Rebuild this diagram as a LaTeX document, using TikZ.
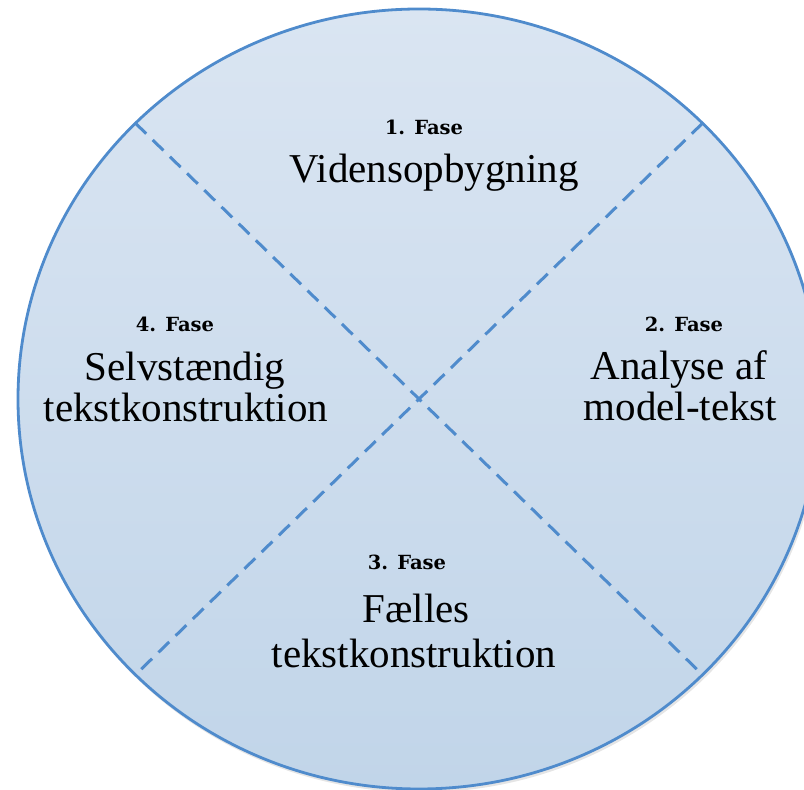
\documentclass[tikz,border=0pt]{standalone}
\usepackage{fontspec}
\usetikzlibrary{calc}
\setmainfont{Liberation Serif}
\newfontfamily\labfont{DejaVu Serif}
\definecolor{ringblue}{HTML}{4F8BCC}
\definecolor{filltop}{HTML}{DAE5F2}
\definecolor{fillbot}{HTML}{C1D5E9}
\tikzset{
  phaselabel/.style={anchor=base, inner sep=0pt, font=\labfont\bfseries\fontsize{19.5}{22}\selectfont},
  phasetext/.style={anchor=base, inner sep=0pt, font=\fontsize{41}{48}\selectfont},
  divider/.style={draw=ringblue, line width=3pt, dash pattern=on 15pt off 9pt}
}
\begin{document}
\begin{tikzpicture}[x=1pt,y=1pt]
\useasboundingbox (0,0) rectangle (804,790);
\clip (0,0) rectangle (804,790);
\coordinate (c) at (419,391);
% soft shadow
\fill[black, opacity=0.10] ($(c)+(1.5,-2.5)$) ellipse [x radius=402pt, y radius=391pt];
\path[top color=filltop, bottom color=fillbot, draw=ringblue, line width=2.8pt]
  (c) ellipse [x radius=401pt, y radius=390pt];
\coordinate (ul) at ($(c)+(135:401pt and 390pt)$);
\coordinate (ur) at ($(c)+(45:401pt and 390pt)$);
\coordinate (ll) at ($(c)+(225:401pt and 390pt)$);
\coordinate (lr) at ($(c)+(315:401pt and 390pt)$);
\draw[divider] (ul) -- (lr);
\draw[divider] (ur) -- (ll);
\node[phaselabel] (f1) at (424,655) {1. Fase};
\node[phasetext] (t1) at (434,607) {Vidensopbygning};
\node[phaselabel] (f2) at (684,458) {2. Fase};
\node[phasetext] (t2a) at (679,410) {Analyse af};
\node[phasetext] (t2b) at (680.5,369) {model-tekst};
\node[phaselabel] (f3) at (407,220) {3. Fase};
\node[phasetext] (t3a) at (416,167) {Fælles};
\node[phasetext] (t3b) at (414,122) {tekstkonstruktion};
\node[phaselabel] (f4) at (175,458) {4. Fase};
\node[phasetext] (t4a) at (185,409) {Selvstændig};
\node[phasetext] (t4b) at (186,368) {tekstkonstruktion};
\end{tikzpicture}
\end{document}
